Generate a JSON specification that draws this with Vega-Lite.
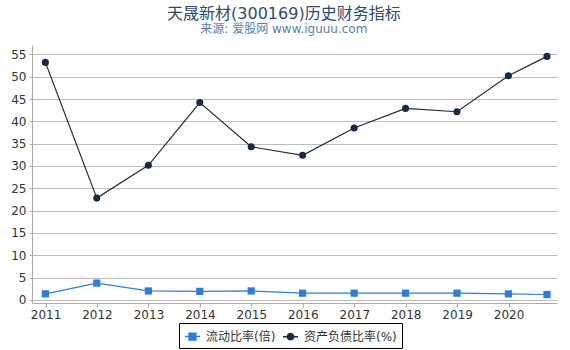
{
  "$schema": "https://vega.github.io/schema/vega-lite/v6.json",
  "width": 525,
  "height": 258,
  "autosize": {"type": "none"},
  "padding": {"left": 32, "top": 45, "right": 13, "bottom": 47},
  "background": "#ffffff",
  "title": {
    "text": "天晟新材(300169)历史财务指标",
    "subtitle": "来源: 爱股网 www.iguuu.com",
    "anchor": "middle",
    "frame": "bounds",
    "offset": 10,
    "font": "DejaVu Sans, Noto Sans CJK SC",
    "fontSize": 16,
    "fontWeight": "normal",
    "color": "#2f4b6d",
    "subtitleFont": "DejaVu Sans, Noto Sans CJK SC",
    "subtitleFontSize": 12,
    "subtitleColor": "#5b7ea6",
    "subtitlePadding": 2
  },
  "data": {
    "values": [
      {"date": "2010-12-31", "series": "流动比率(倍)", "value": 1.35},
      {"date": "2011-12-31", "series": "流动比率(倍)", "value": 3.75},
      {"date": "2012-12-31", "series": "流动比率(倍)", "value": 2.0},
      {"date": "2013-12-31", "series": "流动比率(倍)", "value": 1.9},
      {"date": "2014-12-31", "series": "流动比率(倍)", "value": 2.0},
      {"date": "2015-12-31", "series": "流动比率(倍)", "value": 1.5},
      {"date": "2016-12-31", "series": "流动比率(倍)", "value": 1.5},
      {"date": "2017-12-31", "series": "流动比率(倍)", "value": 1.5},
      {"date": "2018-12-31", "series": "流动比率(倍)", "value": 1.5},
      {"date": "2019-12-31", "series": "流动比率(倍)", "value": 1.35},
      {"date": "2020-09-30", "series": "流动比率(倍)", "value": 1.2},
      {"date": "2010-12-31", "series": "资产负债比率(%)", "value": 53.2},
      {"date": "2011-12-31", "series": "资产负债比率(%)", "value": 22.8},
      {"date": "2012-12-31", "series": "资产负债比率(%)", "value": 30.15},
      {"date": "2013-12-31", "series": "资产负债比率(%)", "value": 44.2},
      {"date": "2014-12-31", "series": "资产负债比率(%)", "value": 34.3},
      {"date": "2015-12-31", "series": "资产负债比率(%)", "value": 32.4},
      {"date": "2016-12-31", "series": "资产负债比率(%)", "value": 38.5},
      {"date": "2017-12-31", "series": "资产负债比率(%)", "value": 42.9},
      {"date": "2018-12-31", "series": "资产负债比率(%)", "value": 42.15},
      {"date": "2019-12-31", "series": "资产负债比率(%)", "value": 50.2},
      {"date": "2020-09-30", "series": "资产负债比率(%)", "value": 54.55}
    ]
  },
  "encoding": {
    "x": {
      "field": "date",
      "type": "temporal",
      "scale": {
        "domain": [{"year": 2010, "month": 9, "date": 27}, {"year": 2020, "month": 12, "date": 10}],
        "nice": false
      },
      "axis": {
        "title": null,
        "format": "%Y",
        "tickCount": {"interval": "year", "step": 1},
        "grid": false,
        "tickSize": 4,
        "labelPadding": 2,
        "labelFlush": false,
        "labelOverlap": false
      }
    },
    "y": {
      "field": "value",
      "type": "quantitative",
      "scale": {"domain": [-0.7, 57.1], "nice": false, "zero": false},
      "axis": {
        "title": null,
        "values": [0, 5, 10, 15, 20, 25, 30, 35, 40, 45, 50, 55],
        "grid": true,
        "tickSize": 3,
        "labelPadding": 3
      }
    },
    "color": {
      "field": "series",
      "type": "nominal",
      "scale": {"domain": ["流动比率(倍)", "资产负债比率(%)"], "range": ["#2e7ed8", "#1b2a42"]}
    }
  },
  "layer": [
    {
      "mark": {"type": "line", "strokeWidth": 1.2}
    },
    {
      "transform": [{"filter": "datum.series === '流动比率(倍)'"}],
      "mark": {"type": "point", "shape": "square", "filled": true, "opacity": 1, "size": 52}
    },
    {
      "transform": [{"filter": "datum.series === '资产负债比率(%)'"}],
      "mark": {"type": "point", "shape": "circle", "filled": true, "opacity": 1, "size": 50}
    },
    {
      "transform": [{"filter": "false"}],
      "mark": {"type": "point", "filled": true, "opacity": 1, "strokeWidth": 1.5},
      "encoding": {
        "stroke": {
          "field": "series",
          "type": "nominal",
          "scale": {"domain": ["流动比率(倍)", "资产负债比率(%)"], "range": ["#4a90e0", "#3a4a60"]}
        },
        "shape": {
          "field": "series",
          "type": "nominal",
          "scale": {
            "domain": ["流动比率(倍)", "资产负债比率(%)"],
            "range": [
              "M-1,0H1M-0.45,-0.45H0.45V0.45H-0.45Z",
              "M-1,0H1M0.42,0A0.42,0.42,0,1,1,-0.42,0A0.42,0.42,0,1,1,0.42,0Z"
            ]
          }
        }
      }
    }
  ],
  "config": {
    "view": {"stroke": null},
    "font": "DejaVu Sans, Noto Sans CJK SC",
    "axis": {
      "labelFont": "DejaVu Sans",
      "labelFontSize": 12,
      "labelColor": "#333333",
      "domainColor": "#aaaaaa",
      "tickColor": "#aaaaaa",
      "gridColor": "#bdbdbd",
      "gridWidth": 1
    },
    "legend": {
      "orient": "none",
      "legendX": 147,
      "legendY": 278,
      "direction": "horizontal",
      "title": null,
      "labelFont": "DejaVu Sans, Noto Sans CJK SC",
      "labelFontSize": 12,
      "labelColor": "#333333",
      "symbolSize": 225,
      "symbolStrokeWidth": 1.5,
      "symbolOpacity": 1,
      "strokeColor": "#000000",
      "padding": 5,
      "columnPadding": 4,
      "labelOffset": 5,
      "fillColor": "#ffffff"
    }
  }
}
